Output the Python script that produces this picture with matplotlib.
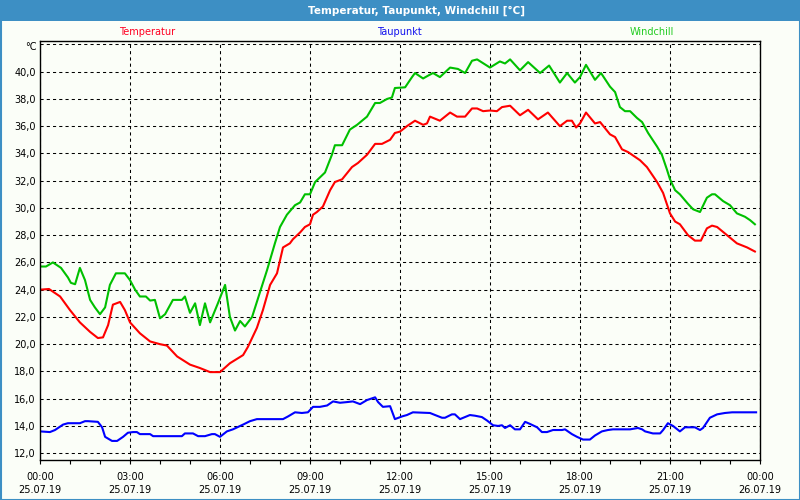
"""
Temperatur / Taupunkt / Windchill chart for 25.07.19 (weather station style).
"""

import pandas as pd
import matplotlib
matplotlib.use('Agg')
import matplotlib.pyplot as plt
import matplotlib.dates as mdates
from matplotlib.patches import Rectangle
from matplotlib.ticker import FuncFormatter

# hours after 25.07.19 00:00 and values in °C
TEMP_HOURS = [0.00, 0.30, 0.67, 1.00, 1.33, 1.67, 1.93, 2.10, 2.27, 2.43, 2.67, 2.83,
              3.00, 3.33, 3.67, 4.00, 4.23, 4.57, 5.00, 5.33, 5.67, 6.00, 6.33, 6.77,
              6.93, 7.23, 7.43, 7.67, 7.90, 8.10, 8.33, 8.43, 8.67, 8.83, 9.00, 9.10,
              9.23, 9.43, 9.67, 9.83, 10.07, 10.40, 10.60, 10.90, 11.17, 11.40, 11.67,
              11.83, 12.00, 12.23, 12.50, 12.77, 12.90, 13.00, 13.33, 13.67, 13.90,
              14.17, 14.40, 14.57, 14.77, 15.00, 15.23, 15.40, 15.67, 16.00, 16.27,
              16.60, 16.93, 17.33, 17.57, 17.73, 17.87, 18.00, 18.20, 18.50, 18.67,
              19.00, 19.17, 19.40, 19.60, 20.00, 20.23, 20.57, 20.77, 21.00, 21.17,
              21.33, 21.60, 21.83, 22.03, 22.23, 22.40, 22.57, 22.90, 23.23, 23.57, 23.83]
TEMP_VALUES = [24.0, 24.05, 23.5, 22.5, 21.6, 20.9, 20.45, 20.5, 21.4, 22.9, 23.1, 22.5,
               21.6, 20.8, 20.2, 20.0, 19.9, 19.1, 18.5, 18.25, 17.95, 17.95, 18.6, 19.2,
               19.8, 21.2, 22.5, 24.35, 25.2, 27.1, 27.4, 27.7, 28.2, 28.6, 28.8, 29.5,
               29.7, 30.1, 31.3, 31.9, 32.1, 33.0, 33.3, 33.9, 34.7, 34.7, 35.0,
               35.5, 35.6, 36.0, 36.4, 36.1, 36.2, 36.7, 36.4, 37.0, 36.7,
               36.7, 37.3, 37.3, 37.1, 37.15, 37.1, 37.4, 37.5, 36.8, 37.2,
               36.5, 37.0, 36.0, 36.4, 36.4, 35.9, 36.2, 37.0, 36.2, 36.3,
               35.4, 35.2, 34.3, 34.1, 33.5, 33.0, 31.9, 31.1, 29.6, 29.0,
               28.8, 28.0, 27.6, 27.6, 28.5, 28.7, 28.6, 28.0, 27.4, 27.1, 26.8]

WIND_HOURS = [0.00, 0.20, 0.43, 0.70, 0.93, 1.03, 1.17, 1.33, 1.50, 1.67, 1.83, 2.00,
              2.17, 2.33, 2.53, 2.83, 3.00, 3.17, 3.33, 3.53, 3.67, 3.83, 4.00, 4.17,
              4.43, 4.73, 4.83, 5.00, 5.17, 5.33, 5.50, 5.67, 5.93, 6.17, 6.33, 6.50,
              6.67, 6.83, 7.07, 7.33, 7.57, 7.83, 8.00, 8.23, 8.50, 8.67, 8.83, 9.00,
              9.17, 9.50, 9.73, 9.83, 10.07, 10.33, 10.57, 10.90, 11.17, 11.33, 11.57,
              11.73, 11.83, 12.17, 12.40, 12.50, 12.77, 12.93, 13.10, 13.33, 13.67,
              13.93, 14.17, 14.40, 14.57, 15.00, 15.33, 15.50, 15.67, 16.00, 16.27,
              16.67, 16.97, 17.33, 17.57, 17.83, 18.00, 18.20, 18.50, 18.70, 19.00,
              19.17, 19.33, 19.50, 19.67, 19.90, 20.07, 20.27, 20.57, 20.73, 20.90,
              21.00, 21.17, 21.33, 21.60, 21.77, 22.00, 22.23, 22.40, 22.50, 22.77,
              23.00, 23.23, 23.50, 23.67, 23.83]
WIND_VALUES = [25.7, 25.7, 26.0, 25.6, 24.9, 24.5, 24.4, 25.6, 24.7, 23.25, 22.7, 22.2,
               22.7, 24.35, 25.2, 25.2, 24.7, 24.0, 23.5, 23.5, 23.2, 23.25, 21.9, 22.2,
               23.25, 23.25, 23.5, 22.3, 23.0, 21.4, 23.0, 21.6, 23.0, 24.35, 22.0, 21.0,
               21.7, 21.3, 22.0, 23.8, 25.45, 27.4, 28.6, 29.5, 30.2, 30.4, 31.0, 31.0,
               31.9, 32.6, 33.9, 34.6, 34.6, 35.75, 36.1, 36.7, 37.7, 37.7, 38.0,
               38.1, 38.8, 38.85, 39.6, 39.9, 39.5, 39.7, 39.9, 39.6, 40.3,
               40.2, 39.9, 40.8, 40.9, 40.3, 40.75, 40.6, 40.9, 40.1, 40.7,
               39.9, 40.45, 39.2, 39.9, 39.2, 39.6, 40.5, 39.4, 39.9, 38.9,
               38.5, 37.4, 37.1, 37.1, 36.6, 36.3, 35.5, 34.5, 33.9, 32.8,
               32.1, 31.3, 31.0, 30.3, 29.9, 29.7, 30.75, 31.0, 31.0, 30.5,
               30.2, 29.6, 29.35, 29.1, 28.8]

DEW_HOURS = [0.00, 0.33, 0.50, 0.77, 0.93, 1.33, 1.50, 1.60, 1.93, 2.07, 2.17, 2.40,
             2.57, 2.77, 2.93, 3.10, 3.23, 3.33, 3.67, 3.77, 4.73, 4.83, 5.10, 5.27,
             5.50, 5.73, 5.83, 6.00, 6.23, 6.43, 6.77, 7.00, 7.23, 8.10, 8.27, 8.50,
             8.73, 8.93, 9.10, 9.33, 9.57, 9.77, 10.00, 10.23, 10.43, 10.67, 10.90,
             11.17, 11.27, 11.43, 11.67, 11.83, 12.07, 12.23, 12.43, 13.00, 13.17,
             13.40, 13.50, 13.73, 13.83, 14.00, 14.33, 14.50, 14.73, 14.90, 15.10,
             15.27, 15.40, 15.50, 15.67, 15.83, 16.00, 16.17, 16.33, 16.57, 16.73,
             16.90, 17.10, 17.40, 17.50, 17.73, 17.90, 18.10, 18.33, 18.50, 18.73,
             18.93, 19.10, 19.67, 19.93, 20.07, 20.17, 20.43, 20.67, 20.77, 20.93,
             21.10, 21.33, 21.50, 21.83, 22.00, 22.10, 22.33, 22.57, 22.83, 23.07, 23.87]
DEW_VALUES = [13.6, 13.55, 13.7, 14.1, 14.2, 14.2, 14.35, 14.35, 14.3, 13.9, 13.2, 12.9,
              12.9, 13.2, 13.5, 13.55, 13.55, 13.4, 13.4, 13.25, 13.25, 13.45, 13.45, 13.25,
              13.25, 13.4, 13.4, 13.2, 13.6, 13.75, 14.1, 14.35, 14.5, 14.5, 14.7, 15.0,
              14.95, 15.0, 15.4, 15.4, 15.5, 15.8, 15.7, 15.75, 15.8, 15.6, 15.9,
              16.1, 15.75, 15.4, 15.45, 14.5, 14.7, 14.8, 15.0, 14.95, 14.8,
              14.6, 14.6, 14.85, 14.85, 14.5, 14.8, 14.75, 14.65, 14.4, 14.05,
              14.0, 14.05, 13.85, 14.05, 13.75, 13.75, 14.3, 14.15, 13.9, 13.55,
              13.55, 13.7, 13.7, 13.75, 13.4, 13.2, 13.0, 13.0, 13.3, 13.6,
              13.7, 13.75, 13.75, 13.85, 13.75, 13.6, 13.45, 13.45, 13.7, 14.2,
              14.0, 13.6, 13.9, 13.9, 13.7, 13.85, 14.6, 14.85, 14.95, 15.0, 15.0]

Y_TICKS = [12, 14, 16, 18, 20, 22, 24, 26, 28, 30, 32, 34, 36, 38, 40, 42]

TITLE = 'Temperatur, Taupunkt, Windchill [°C]'
BAR_BLUE = '#3d8fc4'
BG = '#fbfef8'

base = pd.Timestamp('2019-07-25 00:00')


def to_dates(hours):
    return (base + pd.to_timedelta(hours, unit='h')).to_numpy()


fig = plt.figure(figsize=(8, 5), dpi=100, facecolor=BG)
ax = fig.add_axes([0.05, 0.08, 0.90, 0.838], facecolor=BG)

ax.plot(to_dates(TEMP_HOURS), TEMP_VALUES, color='#ff0000', linewidth=1.5)
ax.plot(to_dates(DEW_HOURS), DEW_VALUES, color='#0000ff', linewidth=1.5)
ax.plot(to_dates(WIND_HOURS), WIND_VALUES, color='#00c000', linewidth=1.5)

ax.set_xlim(base, base + pd.Timedelta(hours=24))
ax.set_ylim(11.5, 42.25)

# y axis: comma decimals, no tick marks, °C instead of 42
ax.set_yticks(Y_TICKS)
ax.yaxis.set_major_formatter(FuncFormatter(
    lambda v, p: '' if v >= 41.5 else f'{v:.1f}'.replace('.', ',')))
ax.tick_params(axis='y', length=0, pad=3, labelsize=7)

# x axis: major every 3h, minor every hour
ax.xaxis.set_major_locator(mdates.HourLocator(byhour=range(0, 24, 3)))
ax.xaxis.set_minor_locator(mdates.HourLocator())
ax.xaxis.set_major_formatter(mdates.DateFormatter('%H:%M\n%d.%m.%y'))
ax.tick_params(axis='x', which='both', length=3, width=0.8, direction='out', pad=6, labelsize=7)
for lbl in ax.get_xticklabels():
    lbl.set_multialignment('center')
    lbl.set_linespacing(1.35)

ax.grid(True, which='major', color='black', linestyle=(0, (3, 3)), linewidth=0.75)
for sp in ax.spines.values():
    sp.set_color('black')
    sp.set_linewidth(1.0)

fig.text(37 / 800, 1 - 47 / 500, '°C', ha='right', va='center', fontsize=7)

# legend texts above the plot
fig.text(147 / 800, 1 - 32 / 500, 'Temperatur', color='#ff0022', ha='center', va='center', fontsize=7)
fig.text(399 / 800, 1 - 32 / 500, 'Taupunkt', color='#1010ee', ha='center', va='center', fontsize=7)
fig.text(652 / 800, 1 - 32 / 500, 'Windchill', color='#22cc22', ha='center', va='center', fontsize=7)

# title bar and frame
fig.patches.append(Rectangle((0, 1 - 21 / 500), 1, 21 / 500, transform=fig.transFigure,
                             facecolor=BAR_BLUE, edgecolor='none', zorder=0))
fig.patches.append(Rectangle((0.5 / 800, 0.5 / 500), 1 - 1 / 800, 1 - 1 / 500, transform=fig.transFigure,
                             facecolor='none', edgecolor=BAR_BLUE, linewidth=1.5, zorder=5))
fig.text(417 / 800, 1 - 10.5 / 500, TITLE, color='white', fontweight='bold',
         ha='center', va='center', fontsize=7.5)

plt.savefig('out.png', dpi=100, facecolor=BG)
